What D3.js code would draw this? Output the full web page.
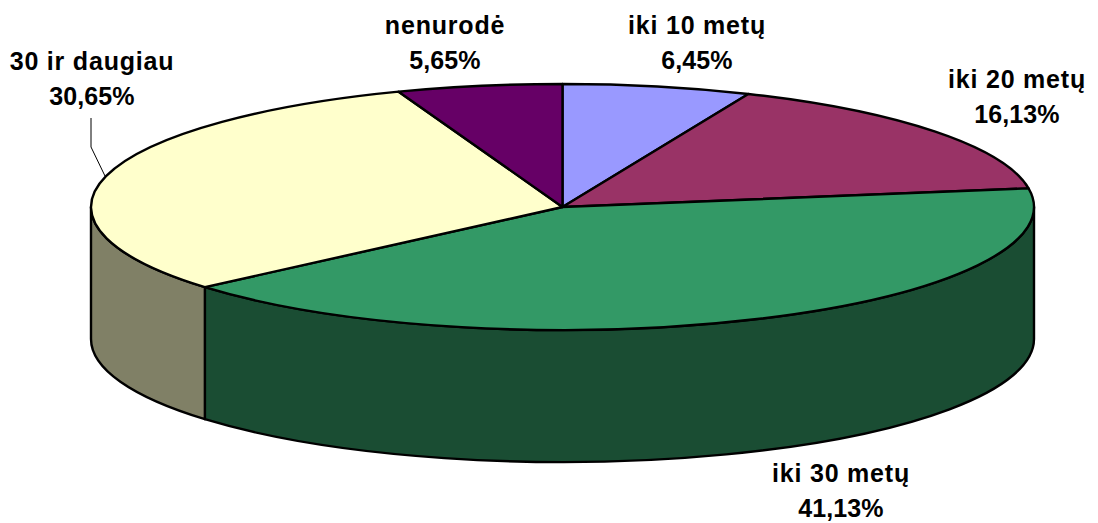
<!doctype html>
<html>
<head>
<meta charset="utf-8">
<title>Amžius</title>
<style>
body { margin: 0; background: #fff; }
text { font-family: "Liberation Sans", Arial, sans-serif; font-weight: bold; font-size: 25px; fill: #000; text-anchor: middle; }
.name { letter-spacing: 0.8px; }
.pct { letter-spacing: 0.1px; }
</style>
</head>
<body>
<div id="chart-area"></div>
<script src="https://cdn.jsdelivr.net/npm/d3@7"></script>
<script>
var categories = ["iki 10 metų", "iki 20 metų", "iki 30 metų", "30 ir daugiau", "nenurodė"];
var percents = [6.45, 16.13, 41.13, 30.65, 5.65];
var percentLabels = ["6,45%", "16,13%", "41,13%", "30,65%", "5,65%"];
var topColors = ["#9999ff", "#993366", "#339966", "#ffffcc", "#660066"];
var sideColors = ["#4d4d80", "#4d1a33", "#1a4d33", "#808066", "#330033"];

var width = 1098, height = 523;
var cx = 562.5, cy = 207, rx = 471.5, ry = 123, depth = 132;

var svg = d3.select("#chart-area").append("svg").attr("width", width).attr("height", height).style("display", "block");

// Unit circle to squashed ellipse
var x = d3.scaleLinear().domain([-1, 1]).range([cx - rx, cx + rx]);
var y = d3.scaleLinear().domain([-1, 1]).range([cy - ry, cy + ry]);

var slices = d3.pie().sort(null).value(function(d){ return d; })(percents);

function px(a){ return x(Math.sin(a)); }
function py(a, drop){ return y(-Math.cos(a)) + (drop || 0); }

function ellipseArc(a0, a1, drop){
    var large = (a1 - a0) > Math.PI ? 1 : 0;
    var sweep = a1 > a0 ? 1 : 0;
    return "A" + rx + "," + ry + " 0 " + large + " " + sweep + " " + px(a1) + "," + py(a1, drop);
}

// Side walls, only the front half of the rim shows
var front = [];
slices.forEach(function(s, i){
    var a0 = Math.max(s.startAngle, Math.PI / 2);
    var a1 = Math.min(s.endAngle, 3 * Math.PI / 2);
    if (a1 > a0) front.push({ a0: a0, a1: a1, i: i });
});

svg.append("g").selectAll("path").data(front).enter().append("path")
    .attr("d", function(d){
        return "M" + px(d.a0) + "," + py(d.a0)
            + ellipseArc(d.a0, d.a1)
            + "L" + px(d.a1) + "," + py(d.a1, depth)
            + ellipseArc(d.a1, d.a0, depth) + "Z";
    })
    .attr("fill", function(d){ return sideColors[d.i]; })
    .attr("stroke", "#000")
    .attr("stroke-width", 2.4)
    .attr("stroke-linejoin", "round");

// Top face
svg.append("g").selectAll("path").data(slices).enter().append("path")
    .attr("d", function(s){
        return "M" + cx + "," + cy
            + "L" + px(s.startAngle) + "," + py(s.startAngle)
            + ellipseArc(s.startAngle, s.endAngle) + "Z";
    })
    .attr("fill", function(s, i){ return topColors[i]; })
    .attr("stroke", "#000")
    .attr("stroke-width", 2.4)
    .attr("stroke-linejoin", "round");

// Leader line of the 30 ir daugiau label
svg.append("path")
    .attr("d", d3.line()([[91, 118], [91, 147], [105, 176]]))
    .attr("fill", "none")
    .attr("stroke", "#000")
    .attr("stroke-width", 1);

// Labels
var labelSpots = [[697, 34], [1017, 88], [841, 482], [92, 70], [445, 34]];
var labels = svg.append("g").selectAll("g").data(categories).enter().append("g")
    .attr("transform", function(d, i){ return "translate(" + labelSpots[i][0] + "," + labelSpots[i][1] + ")"; });
labels.append("text").attr("class", "name").text(function(d){ return d; });
labels.append("text").attr("class", "pct").attr("y", 35).text(function(d, i){ return percentLabels[i]; });
</script>
</body>
</html>
